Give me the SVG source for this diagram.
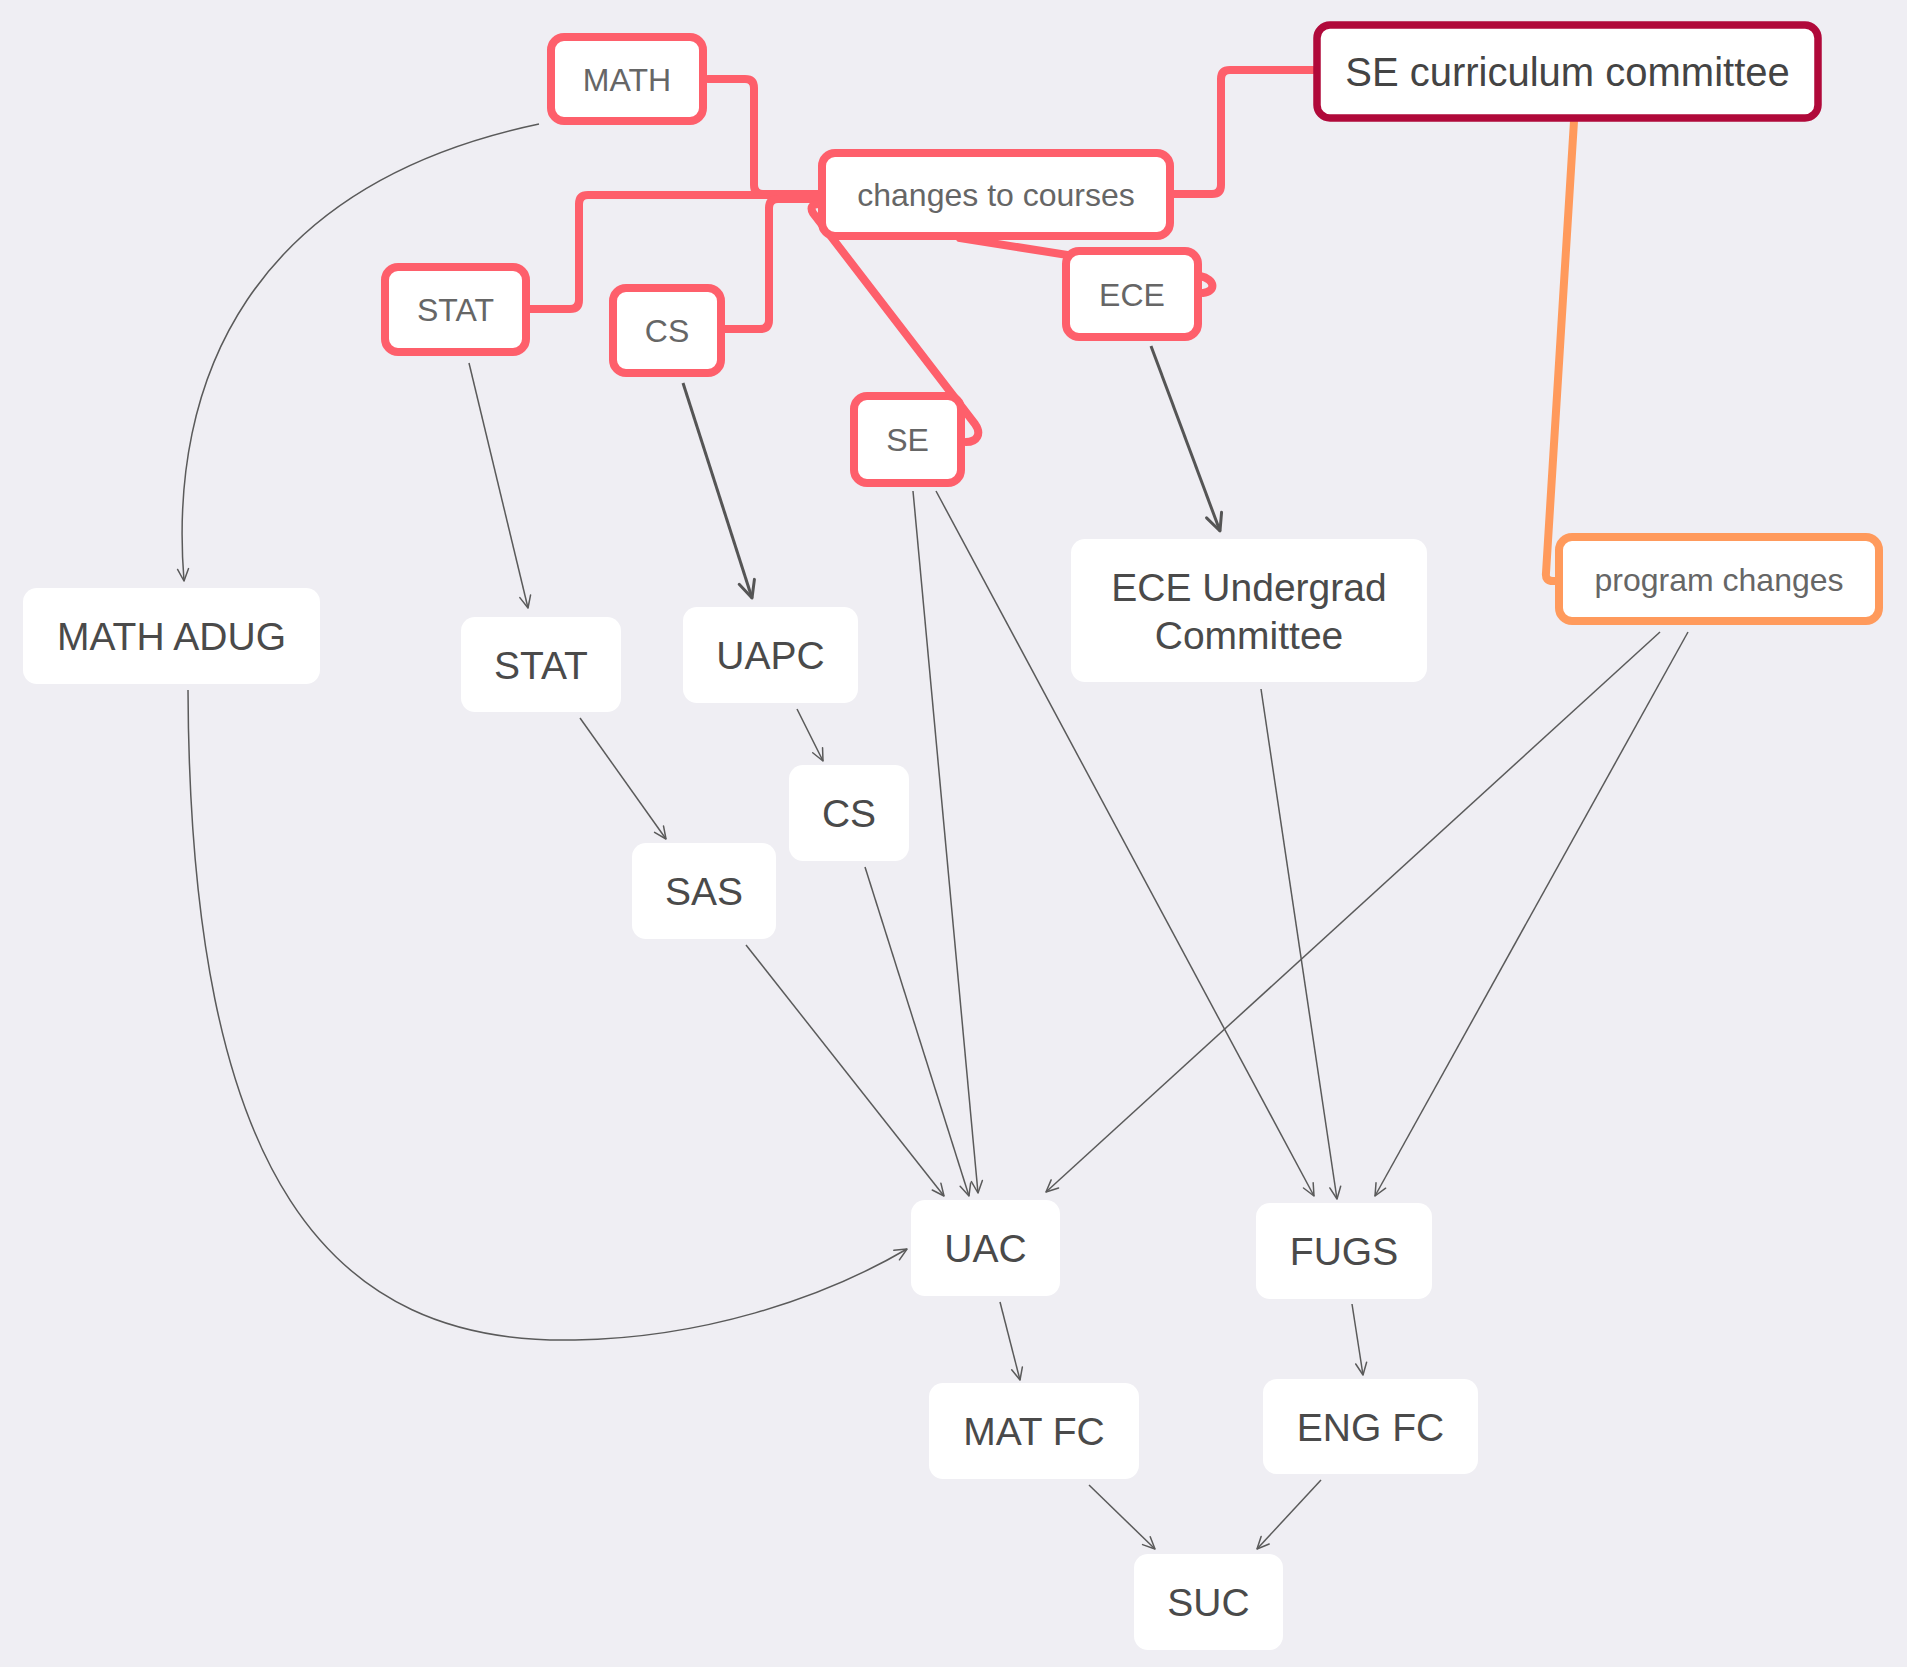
<svg xmlns="http://www.w3.org/2000/svg" width="1907" height="1667" viewBox="0 0 1907 1667">
<style>
.lw{font-family:"Liberation Sans",Arial,sans-serif;font-size:39px;fill:#4a4a4a;text-anchor:middle}
.lr{font-family:"Liberation Sans",Arial,sans-serif;font-size:32px;fill:#666;text-anchor:middle}
.lc{font-family:"Liberation Sans",Arial,sans-serif;font-size:40px;fill:#444;text-anchor:middle}
.nw{fill:#fff}
.nr{fill:#fff;stroke:#fe5f6b;stroke-width:8}
.edge{fill:none;stroke:#5a5a5a;stroke-width:1.5;marker-end:url(#arr)}
.edgeT{fill:none;stroke:#555;stroke-width:3;marker-end:url(#arrT)}
.rl{fill:none;stroke:#fe5f6b;stroke-width:8;stroke-linejoin:round;stroke-linecap:round}
.ol{fill:none;stroke:#ff9a5c;stroke-width:8;stroke-linejoin:round;stroke-linecap:round}
</style>
<defs>
<marker id="arr" markerUnits="userSpaceOnUse" markerWidth="30" markerHeight="30" viewBox="-15 -15 30 30" refX="0" refY="0" orient="auto" overflow="visible">
<path d="M-12,-5.5 L0,0 L-12,5.5" fill="none" stroke="#5a5a5a" stroke-width="1.5" stroke-linecap="round" stroke-linejoin="round"/>
</marker>
<marker id="arrT" markerUnits="userSpaceOnUse" markerWidth="40" markerHeight="40" viewBox="-20 -20 40 40" refX="0" refY="0" orient="auto" overflow="visible">
<path d="M-17,-8 L0,0 L-17,8" fill="none" stroke="#555" stroke-width="3" stroke-linecap="round" stroke-linejoin="round"/>
</marker>
</defs>
<rect x="0" y="0" width="1907" height="1667" fill="#efeef3"/>
<g id="connectors">
<path class="rl" d="M708 79 L745 79 Q754 79 754 88 L754 185 Q754 194 763 194 L820 194"/>
<path class="rl" d="M530 309 L570 309 Q579 309 579 300 L579 204 Q579 195 588 195 L820 195"/>
<path class="rl" d="M725 329 L760 329 Q769 329 769 320 L769 208 Q769 199 778 199 L820 199"/>
<path class="rl" d="M1313 70 L1230 70 Q1221 70 1221 79 L1221 185 Q1221 194 1212 194 L1172 194"/>
<path class="rl" d="M820 204 Q808 204 813 213 L975 424 C982 434 977 442 966 442"/>
<path class="rl" d="M960 238 L1200 276 C1216 279 1216 292 1203 293"/>
<path class="ol" d="M1574 121 L1546 573 Q1545 581 1553 581 L1560 581"/>
<path class="edge" d="M539 124 C250 185 168 380 184 581"/>
<path class="edge" d="M469 363 L528 608"/>
<path class="edgeT" d="M683 383 L752 598"/>
<path class="edgeT" d="M1151 346 L1220 531"/>
<path class="edge" d="M580 718 L666 839"/>
<path class="edge" d="M797 709 L823 761"/>
<path class="edge" d="M746 945 L944 1196"/>
<path class="edge" d="M865 867 L969 1196"/>
<path class="edge" d="M913 491 L978 1193"/>
<path class="edge" d="M936 491 L1314 1196"/>
<path class="edge" d="M1261 689 L1337 1199"/>
<path class="edge" d="M1660 632 L1046 1192"/>
<path class="edge" d="M1688 632 L1375 1196"/>
<path class="edge" d="M188 690 C190 1180 330 1345 575 1340 C700 1338 820 1300 907 1249"/>
<path class="edge" d="M1000 1302 L1020 1380"/>
<path class="edge" d="M1352 1304 L1363 1375"/>
<path class="edge" d="M1089 1485 L1155 1549"/>
<path class="edge" d="M1321 1480 L1257 1549"/>
</g>
<g id="n-math"><rect class="nr" x="551" y="37" width="152" height="84" rx="13"/><text class="lr" x="627" y="90.5">MATH</text></g>
<g id="n-changes"><rect class="nr" x="822" y="153" width="348" height="83" rx="13"/><text class="lr" x="996" y="206">changes to courses</text></g>
<g id="n-stat-r"><rect class="nr" x="385" y="267" width="141" height="85" rx="13"/><text class="lr" x="455.5" y="321">STAT</text></g>
<g id="n-cs-r"><rect class="nr" x="613" y="288" width="108" height="85" rx="13"/><text class="lr" x="667" y="342">CS</text></g>
<g id="n-ece-r"><rect class="nr" x="1066" y="251" width="132" height="86" rx="13"/><text class="lr" x="1132" y="305.5">ECE</text></g>
<g id="n-se-r"><rect class="nr" x="854" y="396" width="107" height="87" rx="13"/><text class="lr" x="907.5" y="451">SE</text></g>
<g id="n-secc"><rect x="1317" y="25" width="501" height="93" rx="13" fill="#fff" stroke="#b0093a" stroke-width="7.5"/><text class="lc" x="1567.5" y="86">SE curriculum committee</text></g>
<g id="n-prog"><rect x="1559" y="537" width="320" height="84" rx="13" fill="#fff" stroke="#ff9a5c" stroke-width="8"/><text class="lr" x="1719" y="590.5">program changes</text></g>
<g id="n-mathadug"><rect class="nw" x="23" y="588" width="297" height="96" rx="14"/><text class="lw" x="171.5" y="650">MATH ADUG</text></g>
<g id="n-stat"><rect class="nw" x="461" y="617" width="160" height="95" rx="14"/><text class="lw" x="541" y="678.5">STAT</text></g>
<g id="n-uapc"><rect class="nw" x="683" y="607" width="175" height="96" rx="14"/><text class="lw" x="770.5" y="669">UAPC</text></g>
<g id="n-cs"><rect class="nw" x="789" y="765" width="120" height="96" rx="14"/><text class="lw" x="849" y="827">CS</text></g>
<g id="n-sas"><rect class="nw" x="632" y="843" width="144" height="96" rx="14"/><text class="lw" x="704" y="905">SAS</text></g>
<g id="n-eceuc"><rect class="nw" x="1071" y="539" width="356" height="143" rx="14"/><text class="lw" x="1249" y="601">ECE Undergrad</text><text class="lw" x="1249" y="649">Committee</text></g>
<g id="n-uac"><rect class="nw" x="911" y="1200" width="149" height="96" rx="14"/><text class="lw" x="985.5" y="1262">UAC</text></g>
<g id="n-fugs"><rect class="nw" x="1256" y="1203" width="176" height="96" rx="14"/><text class="lw" x="1344" y="1265">FUGS</text></g>
<g id="n-matfc"><rect class="nw" x="929" y="1383" width="210" height="96" rx="14"/><text class="lw" x="1034" y="1445">MAT FC</text></g>
<g id="n-engfc"><rect class="nw" x="1263" y="1379" width="215" height="95" rx="14"/><text class="lw" x="1370.5" y="1440.5">ENG FC</text></g>
<g id="n-suc"><rect class="nw" x="1134" y="1554" width="149" height="96" rx="14"/><text class="lw" x="1208.5" y="1616">SUC</text></g>
</svg>
